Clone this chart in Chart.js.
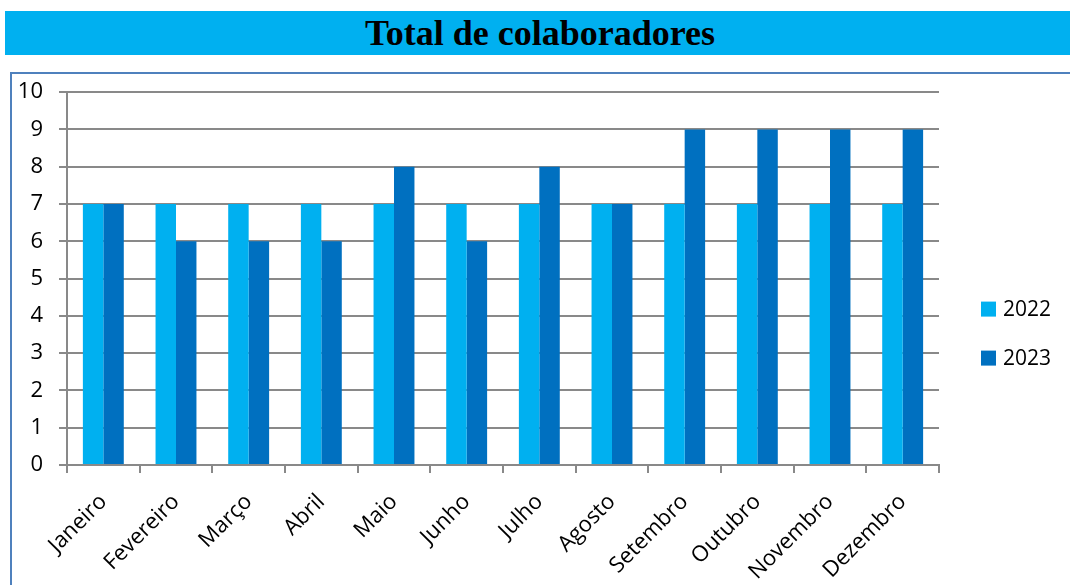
<!DOCTYPE html>
<html lang="pt">
<head>
    <meta charset="utf-8">
    <title>Total de colaboradores</title>
    <script src="https://cdn.jsdelivr.net/npm/chart.js@4.4.0/dist/chart.umd.min.js"></script>
    <style>
        body { margin: 0; background: #fff; width: 1070px; height: 585px; overflow: hidden; position: relative; }
        #banner {
            position: absolute; left: 5px; top: 11px; width: 1070px; height: 44px;
            background: #00B0F0; color: #000; text-align: center;
            font-family: "Liberation Serif", serif; font-weight: bold; font-size: 36px;
            line-height: 44px;
        }
        #box {
            position: absolute; left: 10px; top: 72px; width: 1080px; height: 540px;
            border: 2px solid #4F81BD;
        }
        #wrap { position: absolute; left: 0; top: 63px; width: 1070px; height: 522px; }
    </style>
</head>
<body>
    <div id="banner">Total de colaboradores</div>
    <div id="box"></div>
    <div id="wrap"><canvas id="myChart"></canvas></div>

    <script>
        var meses = ["Janeiro", "Fevereiro", "Março", "Abril", "Maio", "Junho",
            "Julho", "Agosto", "Setembro", "Outubro", "Novembro", "Dezembro"];
        var anos = ["2022", "2023"];
        var valores2022 = [7, 7, 7, 7, 7, 7, 7, 7, 7, 7, 7, 7];
        var valores2023 = [7, 6, 6, 6, 8, 6, 8, 7, 9, 9, 9, 9];
        var cores = ["#00B0F0", "#0070C0"];

        Chart.defaults.font.family = "'Open Sans', sans-serif";
        Chart.defaults.color = "#000";

        // legenda desenhada à direita, como no Excel
        var legendaDireita = {
            id: "legendaDireita",
            afterDraw: function (chart) {
                var ctx = chart.ctx;
                var area = chart.chartArea;
                var x = area.right + 42;
                var meio = (area.top + area.bottom) / 2;
                ctx.save();
                ctx.font = "21px 'Open Sans', sans-serif";
                ctx.textBaseline = "middle";
                chart.data.datasets.forEach(function (ds, i) {
                    var y = meio + 23 + i * 49;
                    ctx.fillStyle = ds.backgroundColor;
                    ctx.fillRect(x, y, 15, 15);
                    ctx.fillStyle = "#000";
                    ctx.fillText(ds.label, x + 22, y + 8);
                });
                ctx.restore();
            }
        };

        new Chart("myChart", {
            type: "bar",
            data: {
                labels: meses,
                datasets: [
                    { label: anos[0], data: valores2022, backgroundColor: cores[0] },
                    { label: anos[1], data: valores2023, backgroundColor: cores[1] }
                ]
            },
            options: {
                responsive: true,
                maintainAspectRatio: false,
                animation: false,
                categoryPercentage: 0.563,
                barPercentage: 1,
                layout: { padding: { left: 14, top: 8, right: 131, bottom: 0 } },
                plugins: {
                    legend: { display: false },
                    tooltip: { enabled: false }
                },
                scales: {
                    x: {
                        afterFit: function (s) { s.height = 120; },
                        grid: { drawOnChartArea: false, tickLength: 8, color: "#898989", lineWidth: 2 },
                        border: { color: "#898989", width: 2 },
                        ticks: { font: { size: 22 }, maxRotation: 45, minRotation: 45, padding: 16 }
                    },
                    y: {
                        min: 0,
                        max: 10,
                        afterFit: function (s) { s.width = 53; },
                        grid: { tickLength: 8, color: "#898989", lineWidth: 2 },
                        border: { color: "#898989", width: 2 },
                        ticks: { stepSize: 1, font: { size: 22 }, padding: 16 }
                    }
                }
            },
            plugins: [legendaDireita]
        });
    </script>
</body>
</html>
